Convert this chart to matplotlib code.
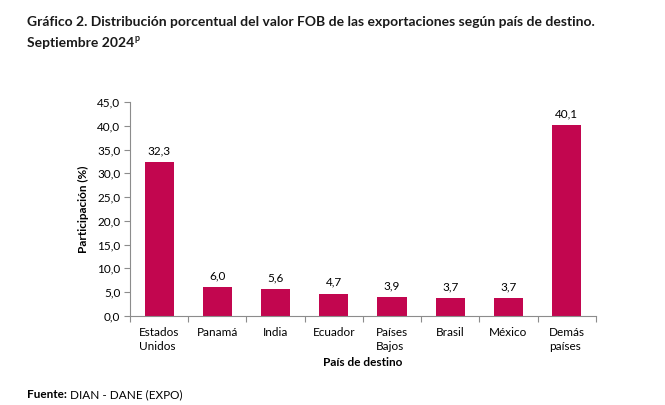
import numpy as np
import matplotlib.pyplot as plt

plt.rcParams['font.family'] = ['Lato', 'DejaVu Sans']

paises = ['Estados\nUnidos', 'Panamá', 'India', 'Ecuador', 'Países\nBajos', 'Brasil', 'México', 'Demás\npaíses']
participacion = [32.3, 6.0, 5.6, 4.7, 3.9, 3.7, 3.7, 40.1]
yticks = np.arange(0, 45.1, 5)

color_barra = '#C2064F'
gris = '#8C8C8C'

fig = plt.figure(figsize=(6.65, 4.05), dpi=100)
ax = fig.add_axes([0.1955, 0.22, 0.7005, 0.528])

x = np.arange(len(paises))
ax.bar(x, participacion, width=0.5, color=color_barra)

for xi, v in zip(x, participacion):
    ax.text(xi, v + 1.3, f'{v:.1f}'.replace('.', ','), ha='center', va='bottom', fontsize=8.5)

ax.set_xlim(-0.5, len(paises) - 0.5)
ax.set_ylim(0, 45)
ax.set_yticks(yticks)
ax.set_yticklabels([f'{t:.1f}'.replace('.', ',') for t in yticks], fontsize=8.5)

# marcas del eje x en los bordes de las categorias
ax.set_xticks(np.arange(-0.5, len(paises), 1))
ax.set_xticklabels([])
ax.set_xticks(x, minor=True)
ax.set_xticklabels(paises, minor=True, fontsize=8.5, ha='center', multialignment='left', linespacing=1.3)
ax.tick_params(axis='x', which='minor', length=0, pad=8)
ax.tick_params(axis='x', which='major', length=4, color=gris)
ax.tick_params(axis='y', length=4, color=gris, pad=3)

for s in ['top', 'right']:
    ax.spines[s].set_visible(False)
for s in ['left', 'bottom']:
    ax.spines[s].set_color(gris)
    ax.spines[s].set_linewidth(0.8)

ax.set_ylabel('Participación (%)', fontsize=8.5, fontweight='bold', labelpad=6)
ax.set_xlabel('País de destino', fontsize=8.5, fontweight='bold', labelpad=4)

fig.text(0.041, 0.945, 'Gráfico 2. Distribución porcentual del valor FOB de las exportaciones según país de destino.',
         fontsize=10, fontweight='bold', color='#1a1a1a', va='center')
t2 = fig.text(0.041, 0.895, 'Septiembre 2024', fontsize=10, fontweight='bold', color='#1a1a1a', va='center')
plt.annotate('p', xy=(1, 1.2), xycoords=t2, fontsize=6.5, fontweight='bold', color='#1a1a1a',
             ha='left', va='top', annotation_clip=False)

f1 = fig.text(0.041, 0.025, 'Fuente:', fontsize=8.5, fontweight='bold', va='center')
plt.annotate(' DIAN - DANE (EXPO)', xy=(1, 0.5), xycoords=f1, fontsize=8.5, va='center', ha='left',
             annotation_clip=False)

plt.savefig('out.png', dpi=100)
